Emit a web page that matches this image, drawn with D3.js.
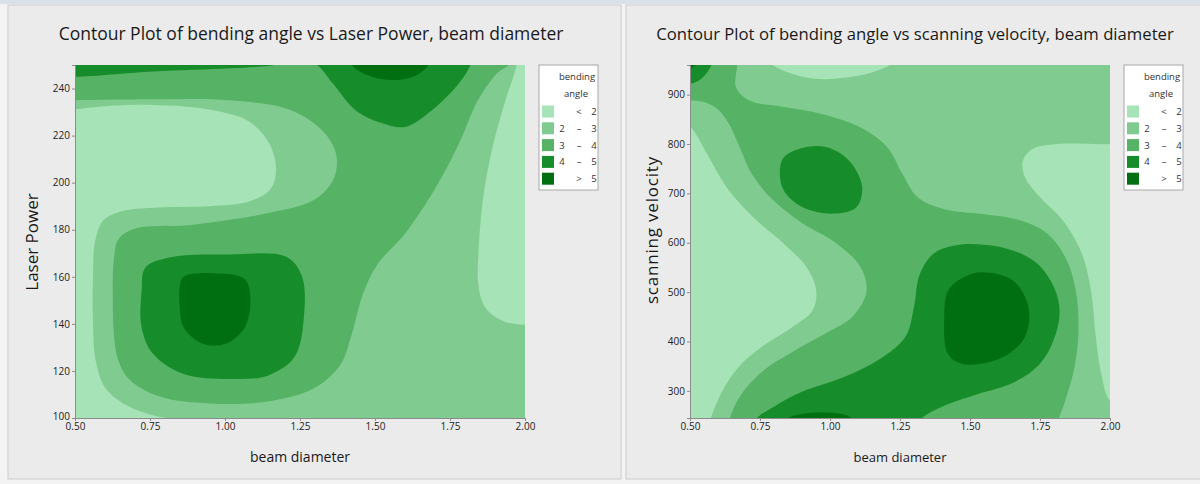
<!DOCTYPE html>
<html>
<head>
<meta charset="utf-8">
<script src="https://cdn.jsdelivr.net/npm/d3@7"></script>
<style>
  body { margin: 0; background: #f3f3f3; }
  svg { display: block; font-family: 'Open Sans', 'Noto Sans', sans-serif; }
</style>
</head>
<body>
<svg id="chart" width="1200" height="484"></svg>
<script>
// contour band colours, lowest to highest
const levelColors = ['#a6e3b6', '#80cc90', '#56b264', '#168d2a', '#006f12'];
const legendRows = [['', '<', '2'], ['2', '\u2013', '3'], ['3', '\u2013', '4'], ['4', '\u2013', '5'], ['', '>', '5']];

const beamTicks = [0.5, 0.75, 1.0, 1.25, 1.5, 1.75, 2.0];
const powerTicks = [100, 120, 140, 160, 180, 200, 220, 240];
const velocityTicks = [300, 400, 500, 600, 700, 800, 900];
const beamDomain = [0.5, 2.0];
const powerDomain = [100, 250];
const velocityDomain = [245, 960];

// ---- Laser Power plot: band boundaries as [beam diameter, laser power]
const powerLowLeft = [
  [0.45, 231], [0.5, 231.2], [0.6, 232.5], [0.76, 233], [0.95, 231], [1.08, 226],
  [1.15, 216], [1.17, 205], [1.15, 197], [1.08, 192], [0.95, 190], [0.78, 189.5],
  [0.66, 188], [0.595, 184], [0.567, 175], [0.56, 160], [0.56, 140], [0.568, 125],
  [0.6, 113], [0.67, 105.5], [0.75, 101.5], [0.82, 99], [0.84, 95], [0.45, 95]
];
const powerLowRight = [
  [1.975, 256], [1.972, 250], [1.935, 235], [1.89, 214], [1.86, 193], [1.845, 170],
  [1.845, 156], [1.87, 146.5], [1.93, 141], [2.0, 139.5], [2.05, 139], [2.05, 256]
];
const powerMid = [
  [0.45, 235], [0.5, 235], [0.76, 235.4], [1.015, 235], [1.22, 230.8], [1.333, 221],
  [1.372, 211], [1.36, 201], [1.295, 192.5], [1.142, 187], [0.887, 182], [0.7, 180.5],
  [0.645, 176], [0.63, 168], [0.626, 150], [0.63, 135], [0.643, 125], [0.68, 116.5],
  [0.785, 109], [0.95, 106.2], [1.142, 107], [1.295, 112.5], [1.384, 122.5],
  [1.423, 135.8], [1.46, 152.8], [1.51, 165.6], [1.6, 178.3], [1.703, 198],
  [1.78, 216.6], [1.843, 235], [1.907, 246.5], [1.945, 250], [1.97, 256], [0.45, 256]
];
const powerHighRing = [
  [0.722, 154], [0.735, 164], [0.824, 168.4], [1.015, 169.5], [1.206, 168.4],
  [1.257, 160], [1.263, 143], [1.232, 126], [1.142, 118], [1.015, 116.6],
  [0.862, 118.7], [0.76, 127.3], [0.722, 138.6]
];
const powerHighTop = [
  [0.45, 256], [0.45, 245.5], [0.5, 245], [0.76, 247.2], [1.015, 248.6], [1.142, 249.6],
  [1.22, 251], [1.3, 250.5], [1.359, 242.2], [1.435, 230.8], [1.525, 225.2],
  [1.6, 223.7], [1.69, 230.8], [1.78, 242.2], [1.818, 250], [1.83, 256]
];
const powerPeakCore = [
  [0.849, 155.6], [0.862, 160], [0.964, 161.5], [1.066, 159], [1.085, 150],
  [1.066, 138.6], [1.002, 131.5], [0.926, 131.5], [0.862, 138.6], [0.849, 147]
];
const powerPeakTop = [
  [1.41, 256], [1.423, 250], [1.474, 245.7], [1.55, 243.6], [1.627, 245], [1.678, 250], [1.69, 256]
];

// ---- scanning velocity plot: [beam diameter, scanning velocity]
const velLowLeft = [
  [0.45, 834], [0.5, 834], [0.52, 821], [0.561, 780], [0.63, 713], [0.725, 652],
  [0.835, 598], [0.917, 550], [0.951, 503], [0.937, 462], [0.862, 428], [0.753, 388],
  [0.671, 347], [0.616, 300], [0.575, 245], [0.57, 230], [0.45, 230]
];
const velLowTop = [
  [0.77, 975], [0.79, 962], [0.85, 945], [0.95, 932], [1.05, 934], [1.15, 945], [1.22, 962], [1.24, 975]
];
const velLowRight = [
  [2.05, 805], [2.0, 800], [1.818, 800], [1.723, 790], [1.689, 766], [1.696, 733],
  [1.75, 692], [1.832, 645], [1.9, 577], [1.934, 496], [1.948, 415], [1.969, 334],
  [2.0, 280], [2.05, 270]
];
const velMid = [
  [0.45, 975], [0.66, 975], [0.664, 915], [0.712, 888], [0.835, 875], [0.971, 861],
  [1.108, 834], [1.204, 794], [1.258, 740], [1.313, 692], [1.408, 668], [1.545, 658],
  [1.682, 645], [1.777, 618], [1.846, 564], [1.88, 496], [1.887, 415], [1.873, 347],
  [1.84, 280], [1.818, 245], [1.81, 230], [0.64, 230], [0.643, 245], [0.68, 290],
  [0.76, 340], [0.87, 380], [0.98, 415], [1.08, 450], [1.13, 500], [1.11, 550],
  [1.02, 600], [0.9, 640], [0.79, 690], [0.72, 740], [0.68, 790], [0.64, 840],
  [0.6, 870], [0.55, 885], [0.5, 888], [0.45, 889]
];
const velHighUpper = [
  [0.835, 773], [0.889, 790], [0.985, 794], [1.067, 767], [1.115, 713], [1.094, 672],
  [1.012, 659], [0.903, 672], [0.835, 706], [0.821, 746]
];
const velHighLower = [
  [0.73, 230], [0.74, 245], [0.8, 268], [0.9, 298], [1.05, 328], [1.18, 365],
  [1.27, 410], [1.3, 470], [1.32, 535], [1.37, 578], [1.45, 595], [1.55, 596],
  [1.65, 585], [1.74, 558], [1.8, 510], [1.82, 460], [1.8, 405], [1.75, 355],
  [1.66, 318], [1.52, 292], [1.4, 268], [1.33, 245], [1.32, 230]
];
const velHighCorner = [
  [0.45, 975], [0.58, 975], [0.565, 948], [0.53, 928], [0.5, 922], [0.45, 920]
];
const velPeakCorner = [
  [0.45, 975], [0.53, 975], [0.52, 960], [0.5, 954], [0.45, 952]
];
const velPeakLower = [
  [1.477, 530], [1.545, 540], [1.654, 523], [1.709, 469], [1.695, 408], [1.613, 367],
  [1.477, 354], [1.422, 374], [1.408, 449], [1.422, 503]
];
const velPeakBottom = [
  [0.84, 230], [0.85, 244], [0.9, 253], [0.97, 256], [1.04, 253], [1.08, 244], [1.09, 230]
];

const svg = d3.select('#chart');

// outer frame of the screenshot
svg.append('rect').attr('x', 0).attr('y', 0).attr('width', 1200).attr('height', 484).attr('fill', '#f3f3f3');
svg.append('rect').attr('x', 0).attr('y', 0).attr('width', 1200).attr('height', 4).attr('fill', '#d9e0ea');

function drawPanel(opt) {
  const g = svg.append('g');

  g.append('rect')
      .attr('x', opt.panel[0]).attr('y', opt.panel[1])
      .attr('width', opt.panel[2]).attr('height', opt.panel[3])
      .attr('fill', '#ebebeb').attr('stroke', '#cbcbcb');

  const x = d3.scaleLinear().domain(beamDomain).range([opt.left, opt.right]);
  const y = d3.scaleLinear().domain(opt.yDomain).range([opt.bottom, opt.top]);

  g.append('clipPath').attr('id', opt.id + '-clip')
      .append('rect')
      .attr('x', x(beamDomain[0])).attr('y', y(opt.yDomain[1]))
      .attr('width', x(beamDomain[1]) - x(beamDomain[0]))
      .attr('height', y(opt.yDomain[0]) - y(opt.yDomain[1]));

  const plot = g.append('g').attr('clip-path', 'url(#' + opt.id + '-clip)');

  plot.append('rect')
      .attr('x', x(beamDomain[0])).attr('y', y(opt.yDomain[1]))
      .attr('width', x(beamDomain[1]) - x(beamDomain[0]))
      .attr('height', y(opt.yDomain[0]) - y(opt.yDomain[1]))
      .attr('fill', levelColors[opt.baseLevel]);

  const line = d3.line()
      .x(d => x(d[0]))
      .y(d => y(d[1]))
      .curve(d3.curveCatmullRomClosed.alpha(0.5));

  plot.selectAll('path.band')
      .data(opt.regions.slice().sort((a, b) => a.level - b.level))
      .join('path')
      .attr('class', 'band')
      .attr('fill', d => levelColors[d.level])
      .attr('d', d => line(d.pts));

  const xAxis = d3.axisBottom(x)
      .tickValues(beamTicks)
      .tickFormat(d3.format('.2f'))
      .tickSize(3)
      .tickPadding(2);
  const yAxis = d3.axisLeft(y)
      .tickValues(opt.yTicks)
      .tickSize(3)
      .tickPadding(2);

  const xg = g.append('g').attr('transform', 'translate(0,' + opt.bottom + ')').call(xAxis);
  const yg = g.append('g').attr('transform', 'translate(' + opt.left + ',0)').call(yAxis);
  [xg, yg].forEach(a => {
    a.select('.domain').attr('stroke', '#8c8c8c');
    a.selectAll('.tick line').attr('stroke', '#8c8c8c');
    a.selectAll('.tick text').attr('fill', '#222').attr('font-size', 10).attr('font-family', "'Open Sans', sans-serif");
  });
  // the lowest y label sits just above the x labels
  yg.selectAll('.tick text').filter(d => d === opt.yDomain[0]).attr('dy', '0.1em');

  g.append('text')
      .attr('x', opt.titleX).attr('y', 40)
      .attr('text-anchor', 'middle')
      .attr('font-size', opt.titleSize)
      .attr('fill', '#1a1a1a')
      .text(opt.title);

  g.append('text')
      .attr('x', (opt.left + opt.right) / 2).attr('y', 462)
      .attr('text-anchor', 'middle')
      .attr('font-size', opt.xLabelSize)
      .attr('fill', '#1a1a1a')
      .text('beam diameter');

  g.append('text')
      .attr('transform', 'translate(' + opt.yLabelX + ',' + opt.yLabelY + ') rotate(-90)')
      .attr('text-anchor', 'middle')
      .attr('font-size', opt.yLabelSize)
      .attr('letter-spacing', opt.yLabelSpacing)
      .attr('fill', '#1a1a1a')
      .text(opt.yLabel);

  // legend
  const lg = g.append('g').attr('transform', 'translate(' + (opt.right + 14) + ',' + opt.top + ')');
  lg.append('rect')
      .attr('width', 59).attr('height', 125)
      .attr('fill', '#fff').attr('stroke', '#a8a8a8');
  lg.append('text').attr('x', 38).attr('y', 15).attr('text-anchor', 'middle')
      .attr('font-size', 9.5).attr('fill', '#333').text('bending');
  lg.append('text').attr('x', 37).attr('y', 32).attr('text-anchor', 'middle')
      .attr('font-size', 9.5).attr('fill', '#333').text('angle');

  const rows = lg.selectAll('g.row')
      .data(legendRows)
      .join('g')
      .attr('class', 'row')
      .attr('transform', (d, i) => 'translate(3,' + (40.5 + i * 16.8) + ')');
  rows.append('rect')
      .attr('width', 12).attr('height', 12)
      .attr('fill', (d, i) => levelColors[i]);
  rows.selectAll('text')
      .data(d => d)
      .join('text')
      .attr('x', (d, i) => [20, 37, 52][i])
      .attr('y', 9.5)
      .attr('text-anchor', 'middle')
      .attr('font-size', 9.5)
      .attr('fill', '#333')
      .text(d => d);
}

drawPanel({
  id: 'power',
  panel: [8, 5, 613, 474],
  left: 75, right: 525, top: 65, bottom: 418,
  yDomain: powerDomain,
  yTicks: powerTicks,
  baseLevel: 1,
  regions: [
    {level: 0, pts: powerLowLeft},
    {level: 0, pts: powerLowRight},
    {level: 2, pts: powerMid},
    {level: 3, pts: powerHighRing},
    {level: 3, pts: powerHighTop},
    {level: 4, pts: powerPeakCore},
    {level: 4, pts: powerPeakTop}
  ],
  title: 'Contour Plot of bending angle vs Laser Power, beam diameter',
  titleX: 311, titleSize: 17.5,
  xLabelSize: 14,
  yLabel: 'Laser Power', yLabelX: 38, yLabelY: 242, yLabelSize: 17, yLabelSpacing: 0
});

drawPanel({
  id: 'velocity',
  panel: [626, 5, 580, 474],
  left: 690, right: 1110, top: 65, bottom: 418,
  yDomain: velocityDomain,
  yTicks: velocityTicks,
  baseLevel: 1,
  regions: [
    {level: 0, pts: velLowLeft},
    {level: 0, pts: velLowTop},
    {level: 0, pts: velLowRight},
    {level: 2, pts: velMid},
    {level: 3, pts: velHighUpper},
    {level: 3, pts: velHighLower},
    {level: 3, pts: velHighCorner},
    {level: 4, pts: velPeakLower},
    {level: 4, pts: velPeakBottom},
    {level: 4, pts: velPeakCorner}
  ],
  title: 'Contour Plot of bending angle vs scanning velocity, beam diameter',
  titleX: 915, titleSize: 16.7,
  xLabelSize: 13,
  yLabel: 'scanning velocity', yLabelX: 658, yLabelY: 230, yLabelSize: 17, yLabelSpacing: 0.8
});
</script>
</body>
</html>
